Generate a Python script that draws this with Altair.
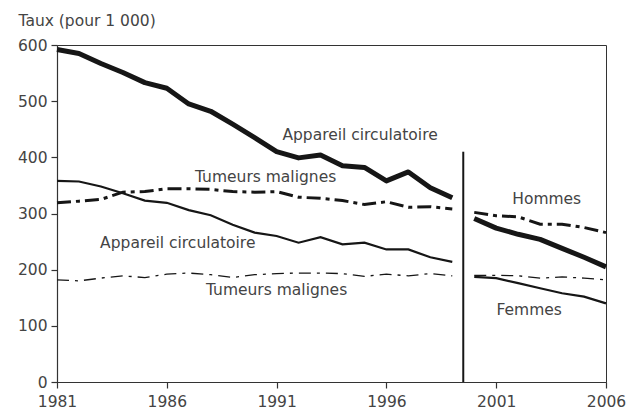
import altair as alt
import pandas as pd

# ---- data ----
years_a = list(range(1981, 2000))
years_b = list(range(2000, 2007))

hommes_circ_a = [592, 585, 567, 551, 533, 523, 495, 482, 459, 435, 410, 399, 404, 385, 382, 358, 374, 346, 328]
hommes_tum_a = [319, 322, 325, 338, 339, 344, 344, 343, 339, 338, 339, 329, 327, 323, 316, 321, 311, 312, 308]
femmes_circ_a = [358, 357, 348, 336, 323, 319, 306, 297, 280, 266, 260, 248, 258, 245, 248, 236, 236, 222, 214]
femmes_tum_a = [182, 180, 185, 189, 186, 192, 194, 191, 186, 191, 193, 194, 194, 193, 188, 192, 189, 193, 189]

hommes_circ_b = [291, 274, 263, 254, 238, 222, 205]
hommes_tum_b = [302, 296, 294, 281, 281, 275, 266]
femmes_circ_b = [187, 185, 176, 167, 158, 152, 140]
femmes_tum_b = [190, 190, 189, 185, 187, 185, 182]

series_names = ["Hommes circ", "Hommes tum", "Femmes circ", "Femmes tum"]

x_ticks = [1981, 1986, 1991, 1996, 2001, 2006]
y_ticks = [0, 100, 200, 300, 400, 500, 600]

sep_year = [1999.5]
sep_bottom = [0]
sep_top = [410]

label_text = ["Appareil circulatoire", "Tumeurs malignes", "Appareil circulatoire",
              "Tumeurs malignes", "Hommes", "Femmes"]
label_year = [1994.8, 1990.5, 1986.5, 1991.0, 2003.3, 2002.5]
label_value = [440, 365, 248, 164, 325, 129]

# ---- tables ----
rows = []
for name, va, vb in zip(series_names,
                        [hommes_circ_a, hommes_tum_a, femmes_circ_a, femmes_tum_a],
                        [hommes_circ_b, hommes_tum_b, femmes_circ_b, femmes_tum_b]):
    for yr, v in zip(years_a, va):
        rows.append({"year": yr, "value": v, "series": name, "period": "a"})
    for yr, v in zip(years_b, vb):
        rows.append({"year": yr, "value": v, "series": name, "period": "b"})
df = pd.DataFrame(rows)
sep_df = pd.DataFrame({"year": sep_year, "bottom": sep_bottom, "top": sep_top})
lab_df = pd.DataFrame({"text": label_text, "year": label_year, "value": label_value})

FONT = "DejaVu Sans"
FS = 15.5
TXT = "#444444"
INK = "#161616"

x_enc = alt.X("year:Q",
              scale=alt.Scale(domain=[1981, 2006], nice=False, zero=False),
              axis=alt.Axis(values=x_ticks, format="d", title=None, labelPadding=6,
                            labelFlush=False))
y_enc = alt.Y("value:Q",
              scale=alt.Scale(domain=[0, 600], nice=False),
              axis=alt.Axis(values=y_ticks, title="Taux (pour 1 000)", titleAngle=0,
                            titleX=-39, titleY=-20, titleAlign="left",
                            titleBaseline="alphabetic", labelPadding=4, labelFlush=False))

base = alt.Chart(df)


def line(name, **style):
    return base.transform_filter(alt.datum.series == name).mark_line(color=INK, **style).encode(
        x=x_enc, y=y_enc, detail="period:N")


l1 = line("Hommes circ", strokeWidth=5, strokeJoin="round")
l2 = line("Hommes tum", strokeWidth=3, strokeDash=[14, 5, 4, 5])
l3 = line("Femmes circ", strokeWidth=2.2)
l4 = line("Femmes tum", strokeWidth=1.3, strokeDash=[12, 6, 3, 6])

sep = alt.Chart(sep_df).mark_rule(color=INK, strokeWidth=2).encode(
    x="year:Q", y="bottom:Q", y2="top:Q")

labels = alt.Chart(lab_df).mark_text(font=FONT, fontSize=FS, color=TXT, align="center",
                                     baseline="middle").encode(
    x="year:Q", y="value:Q", text="text:N")

chart = alt.layer(l1, l2, l3, l4, sep, labels).properties(
    width=549, height=337,
    autosize=alt.AutoSizeParams(type="none"),
    padding={"left": 49, "top": 37, "right": 22, "bottom": 30},
).configure_view(stroke="#333333", strokeWidth=1).configure_axis(
    grid=False, labelFont=FONT, labelFontSize=FS, labelColor=TXT,
    titleFont=FONT, titleFontSize=FS, titleColor=TXT, titleFontWeight="normal",
    domainColor="#333333", tickColor="#333333", tickSize=6, domainWidth=1.2, tickWidth=1.2,
)

chart.save("out.html", embed_options={"renderer": "svg", "actions": False})
